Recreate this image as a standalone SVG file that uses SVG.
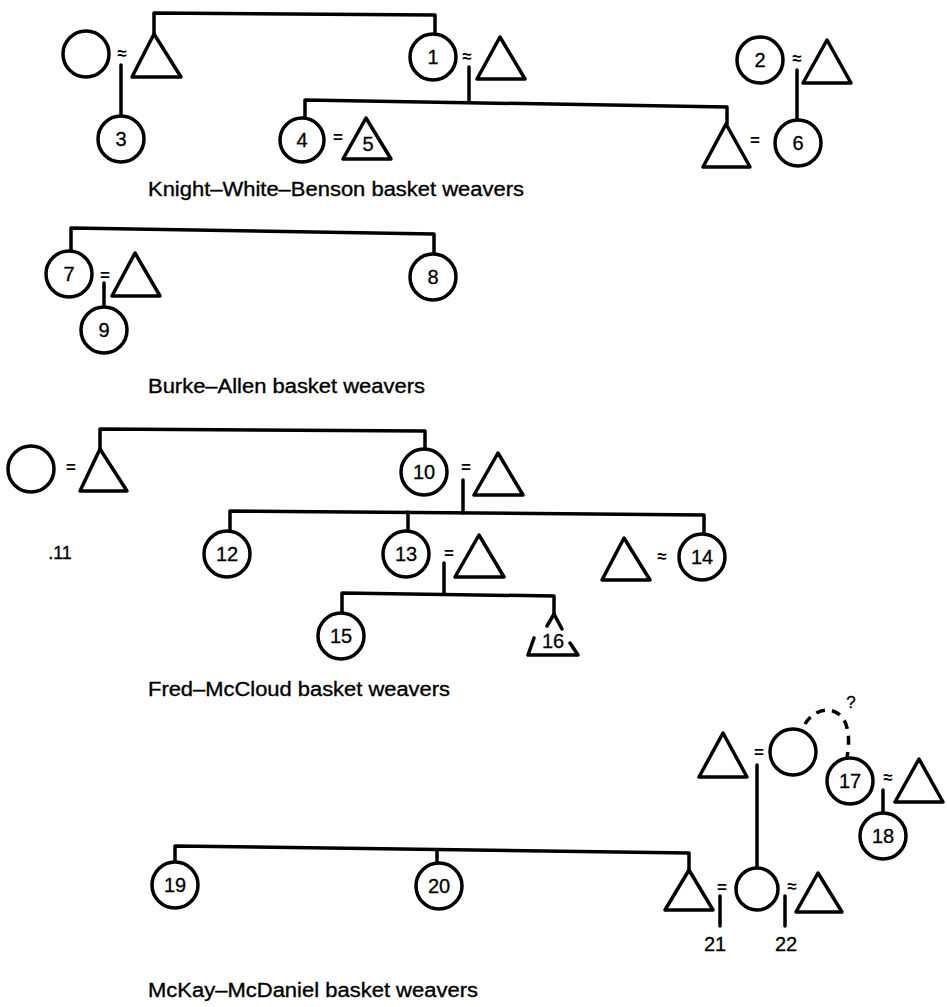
<svg xmlns="http://www.w3.org/2000/svg" width="947" height="1007" viewBox="0 0 947 1007">
<style>
.ln{fill:none;stroke:#000;stroke-width:3.5;stroke-linecap:round;stroke-linejoin:round}
.dash{fill:none;stroke:#000;stroke-width:3.5;stroke-dasharray:9 7}
.p{fill:#fff;stroke:#000;stroke-width:3.5;stroke-linejoin:round}
.num{font-family:"Liberation Sans",Arial,Helvetica,sans-serif;font-size:20px;text-anchor:middle;fill:#000;stroke:#000;stroke-width:0.3}
.eq{font-family:"Liberation Sans",Arial,Helvetica,sans-serif;font-size:17px;font-weight:bold;text-anchor:middle;fill:#000}
.lab{font-family:"Liberation Sans",Arial,Helvetica,sans-serif;font-size:20px;fill:#000;stroke:#000;stroke-width:0.35}
</style>
<rect width="947" height="1007" fill="#fff"/>
<g id="connectors">
<path class="ln" d="M154,34 L154,13 L435,15 L435,34"/>
<path class="ln" d="M121,65 V116"/>
<path class="ln" d="M469,67 V101"/>
<path class="ln" d="M305,117 V100 L727,107 V124"/>
<path class="ln" d="M797,70 V120"/>
<path class="ln" d="M71,252 V228 L434,234 V254"/>
<path class="ln" d="M104,283 V307"/>
<path class="ln" d="M100,449 V429 L425,431 V450"/>
<path class="ln" d="M463,480 V513"/>
<path class="ln" d="M230,532 V511 L704,515 V534"/>
<path class="ln" d="M408,512 V532"/>
<path class="ln" d="M444,563 V594"/>
<path class="ln" d="M342,613 V593 L554,596 V614"/>
<path class="ln" d="M547,626 L554,614 L562,629"/>
<path class="dash" d="M805,724 C815,706 842,704 847,728 C850,740 848,750 847,758"/>
<path class="ln" d="M757,765 V868"/>
<path class="ln" d="M883,790 V813"/>
<path class="ln" d="M175,862 V846 L689,853 V870"/>
<path class="ln" d="M437,850 V863"/>
<path class="ln" d="M720,896 V926"/>
<path class="ln" d="M785,896 V926"/>
</g>
<g id="kwb-f0"><circle class="p" cx="86" cy="54" r="23"/></g>
<g id="kwb-eq0"><text class="eq" x="122" y="59">≈</text></g>
<g id="kwb-m0"><polygon class="p" points="154,34 132,77 181,77"/></g>
<g id="n1"><circle class="p" cx="433" cy="57" r="23"/><text class="num" x="433" y="64">1</text></g>
<g id="kwb-eq1"><text class="eq" x="467" y="62">≈</text></g>
<g id="kwb-m1"><polygon class="p" points="500,37 477,79 525,79"/></g>
<g id="n2"><circle class="p" cx="760" cy="60" r="23"/><text class="num" x="760" y="67">2</text></g>
<g id="kwb-eq2"><text class="eq" x="797" y="64">≈</text></g>
<g id="kwb-m2"><polygon class="p" points="827,40 803,83 851,83"/></g>
<g id="n3"><circle class="p" cx="121" cy="139" r="23"/><text class="num" x="121" y="146">3</text></g>
<g id="n4"><circle class="p" cx="302" cy="140" r="22"/><text class="num" x="302" y="147">4</text></g>
<g id="kwb-eq4"><text class="eq" x="338" y="143">=</text></g>
<g id="n5"><polygon class="p" points="366,118 343,159 391,159"/><text class="num" x="368" y="151">5</text></g>
<g id="kwb-m3"><polygon class="p" points="726,124 703,167 750,167"/></g>
<g id="kwb-eq6"><text class="eq" x="755" y="146">=</text></g>
<g id="n6"><circle class="p" cx="798" cy="143" r="23"/><text class="num" x="798" y="150">6</text></g>
<text class="lab" x="148" y="196" textLength="376" lengthAdjust="spacingAndGlyphs">Knight–White–Benson basket weavers</text>

<g id="n7"><circle class="p" cx="69" cy="274" r="23"/><text class="num" x="69" y="281">7</text></g>
<g id="ba-eq7"><text class="eq" x="105" y="281">=</text></g>
<g id="ba-m0"><polygon class="p" points="135,253 112,296 160,296"/></g>
<g id="n8"><circle class="p" cx="433" cy="277" r="23"/><text class="num" x="433" y="284">8</text></g>
<g id="n9"><circle class="p" cx="104" cy="330" r="23"/><text class="num" x="104" y="337">9</text></g>
<text class="lab" x="148" y="393" textLength="277" lengthAdjust="spacingAndGlyphs">Burke–Allen basket weavers</text>

<g id="fm-f0"><circle class="p" cx="31" cy="469" r="23"/></g>
<g id="fm-eq0"><text class="eq" x="71" y="473">=</text></g>
<g id="fm-m0"><polygon class="p" points="100,449 80,491 127,491"/></g>
<g id="n10"><circle class="p" cx="424" cy="472" r="23"/><text class="num" x="424" y="479">10</text></g>
<g id="fm-eq10"><text class="eq" x="466" y="473">=</text></g>
<g id="fm-m1"><polygon class="p" points="498,453 474,495 523,495"/></g>
<g id="n11"><text class="num" x="60" y="559" style="font-size:18px">.11</text></g>
<g id="n12"><circle class="p" cx="227" cy="554" r="23"/><text class="num" x="227" y="561">12</text></g>
<g id="n13"><circle class="p" cx="406" cy="554" r="23"/><text class="num" x="406" y="561">13</text></g>
<g id="fm-eq13"><text class="eq" x="449" y="559">=</text></g>
<g id="fm-m2"><polygon class="p" points="479,535 455,577 504,577"/></g>
<g id="fm-m3"><polygon class="p" points="624,538 602,580 650,580"/></g>
<g id="fm-eq14"><text class="eq" x="662" y="562">≈</text></g>
<g id="n14"><circle class="p" cx="702" cy="557" r="23"/><text class="num" x="702" y="564">14</text></g>
<g id="n15"><circle class="p" cx="341" cy="636" r="23"/><text class="num" x="341" y="643">15</text></g>
<g id="n16"><path class="ln" d="M534,638 L528,655 L578,655 L570,643"/><text class="num" x="553" y="648">16</text></g>
<text class="lab" x="148" y="696" textLength="302" lengthAdjust="spacingAndGlyphs">Fred–McCloud basket weavers</text>

<g id="mm-q"><text class="num" x="851" y="708" style="font-size:17px">?</text></g>
<g id="mm-m0"><polygon class="p" points="723,733 699,777 747,777"/></g>
<g id="mm-eq0"><text class="eq" x="759" y="758">=</text></g>
<g id="mm-f0"><circle class="p" cx="793" cy="752" r="23"/></g>
<g id="n17"><circle class="p" cx="850" cy="781" r="23"/><text class="num" x="850" y="788">17</text></g>
<g id="mm-eq17"><text class="eq" x="888" y="783">≈</text></g>
<g id="mm-m1"><polygon class="p" points="919,759 895,802 943,802"/></g>
<g id="n18"><circle class="p" cx="883" cy="836" r="23"/><text class="num" x="883" y="843">18</text></g>
<g id="n19"><circle class="p" cx="175" cy="885" r="23"/><text class="num" x="175" y="892">19</text></g>
<g id="n20"><circle class="p" cx="439" cy="886" r="23"/><text class="num" x="439" y="893">20</text></g>
<g id="n21"><polygon class="p" points="689,870 665,910 713,910"/><text class="num" x="715" y="951">21</text></g>
<g id="mm-eq21"><text class="eq" x="722" y="893">=</text></g>
<g id="mm-f1"><circle class="p" cx="757" cy="889" r="21"/></g>
<g id="mm-eq22"><text class="eq" x="792" y="892">≈</text></g>
<g id="n22"><polygon class="p" points="818,873 796,912 842,912"/><text class="num" x="786" y="951">22</text></g>
<text class="lab" x="148" y="997" textLength="330" lengthAdjust="spacingAndGlyphs">McKay–McDaniel basket weavers</text>
</svg>
